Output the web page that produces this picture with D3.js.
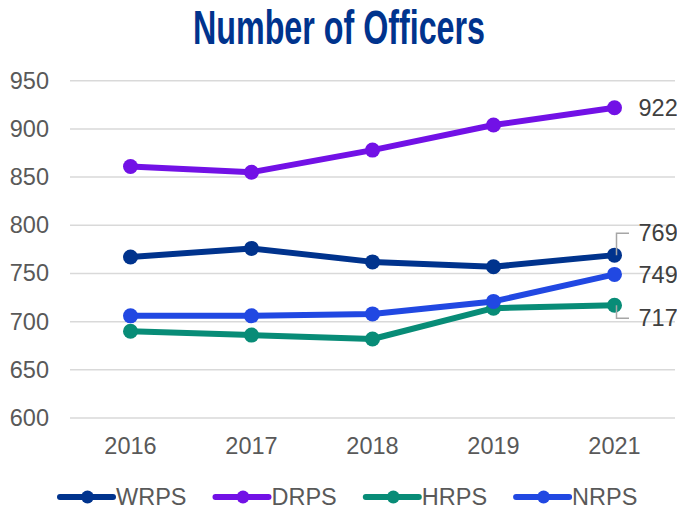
<!DOCTYPE html>
<html>
<head>
<meta charset="utf-8">
<script src="https://cdn.jsdelivr.net/npm/d3@7"></script>
<style>
  html, body { margin: 0; padding: 0; background: #fff; }
  svg { display: block; font-family: "Liberation Sans", Arial, sans-serif; }
</style>
</head>
<body>
<div id="chart"></div>
<script>
const years = ['2016', '2017', '2018', '2019', '2021'];
const seriesNames = ['WRPS', 'DRPS', 'HRPS', 'NRPS'];
const wrpsValues = [767, 776, 762, 757, 769];
const drpsValues = [861, 855, 878, 904, 922];
const hrpsValues = [690, 686, 682, 714, 717];
const nrpsValues = [706, 706, 708, 721, 749];
const yTicks = [600, 650, 700, 750, 800, 850, 900, 950];

const seriesColors = ['#00338d', '#7211e6', '#088c77', '#2148e2'];

const width = 677;
const height = 510;

const series = [wrpsValues, drpsValues, hrpsValues, nrpsValues].map((values, i) => ({
  name: seriesNames[i],
  color: seriesColors[i],
  values: values.map((v, j) => ({ year: years[j], value: v })),
}));

const svg = d3.select('#chart')
  .append('svg')
  .attr('width', width)
  .attr('height', height);

// title (condensed look: squeeze a bold sans into the reference width)
svg.append('text')
  .attr('x', 193)
  .attr('y', 44)
  .attr('textLength', 292)
  .attr('lengthAdjust', 'spacingAndGlyphs')
  .style('font-family', '"Liberation Sans", Arial, sans-serif')
  .style('font-weight', 'bold')
  .style('font-size', '48px')
  .style('fill', '#00338d')
  .text('Number of Officers');

const x = d3.scaleBand()
  .domain(years)
  .range([70, 675]);

const y = d3.scaleLinear()
  .domain([600, 950])
  .range([418, 80.7]);

const cx = (d) => x(d.year) + x.bandwidth() / 2;

// gridlines
svg.append('g')
  .selectAll('line')
  .data(yTicks)
  .enter()
  .append('line')
  .attr('x1', 70)
  .attr('x2', 675)
  .attr('y1', (d) => y(d))
  .attr('y2', (d) => y(d))
  .attr('stroke', '#d9d9d9')
  .attr('stroke-width', 1.5);

// y axis labels
const yAxis = d3.axisLeft(y).tickValues(yTicks).tickSize(0).tickPadding(0);
const yg = svg.append('g')
  .attr('transform', 'translate(49,0)')
  .call(yAxis);
yg.select('.domain').remove();
yg.selectAll('text')
  .style('font-family', '"Liberation Sans", Arial, sans-serif')
  .style('font-size', '23.5px')
  .attr('fill', '#595959');

// x axis labels
const xAxis = d3.axisBottom(x).tickSize(0).tickPadding(0);
const xg = svg.append('g')
  .attr('transform', 'translate(0,437)')
  .call(xAxis);
xg.select('.domain').remove();
xg.selectAll('text')
  .attr('dy', '0.72em')
  .style('font-family', '"Liberation Sans", Arial, sans-serif')
  .style('font-size', '23.5px')
  .attr('fill', '#595959');

// lines
const line = d3.line()
  .x(cx)
  .y((d) => y(d.value));

const sg = svg.append('g')
  .selectAll('g')
  .data(series)
  .enter()
  .append('g');

sg.append('path')
  .attr('d', (s) => line(s.values))
  .attr('fill', 'none')
  .attr('stroke', (s) => s.color)
  .attr('stroke-width', 6)
  .attr('stroke-linejoin', 'round')
  .attr('stroke-linecap', 'round');

sg.selectAll('circle')
  .data((s) => s.values.map((v) => ({ ...v, color: s.color })))
  .enter()
  .append('circle')
  .attr('cx', cx)
  .attr('cy', (d) => y(d.value))
  .attr('r', 7.5)
  .attr('fill', (d) => d.color);

// end labels (with leaders where they were pushed apart)
const last = years.length - 1;
const endLabels = [
  { s: series[1], labelY: y(drpsValues[last]), leader: false },
  { s: series[0], labelY: y(wrpsValues[last]) - 22, leader: true },
  { s: series[3], labelY: y(nrpsValues[last]), leader: false },
  { s: series[2], labelY: y(hrpsValues[last]) + 13, leader: true },
];

const lx = x(years[last]) + x.bandwidth() / 2;
const leaderLine = d3.line();
svg.append('g')
  .selectAll('path')
  .data(endLabels.filter((d) => d.leader))
  .enter()
  .append('path')
  .attr('d', (d) => {
    const v = d.s.values[last].value;
    return leaderLine([[lx + 2, y(v)], [lx + 2, d.labelY], [629, d.labelY]]);
  })
  .attr('fill', 'none')
  .attr('stroke', '#a6a6a6')
  .attr('stroke-width', 1.5);

svg.append('g')
  .selectAll('text')
  .data(endLabels)
  .enter()
  .append('text')
  .attr('x', 638.5)
  .attr('y', (d) => d.labelY)
  .attr('dy', '0.35em')
  .style('font-size', '23.5px')
  .style('fill', '#404040')
  .text((d) => d.s.values[last].value);

// legend
const legendY = 497;
const lineLen = 57;
const gap = 28;
const measure = svg.append('text').style('font-size', '23.5px');
let lxPos = 58;
series.forEach((s) => {
  measure.text(s.name);
  const tw = measure.node().getComputedTextLength();
  const g = svg.append('g').attr('transform', `translate(${lxPos},${legendY})`);
  g.append('line')
    .attr('x1', 2).attr('x2', lineLen - 2)
    .attr('y1', 0).attr('y2', 0)
    .attr('stroke', s.color)
    .attr('stroke-width', 6)
    .attr('stroke-linecap', 'round');
  g.append('circle')
    .attr('cx', lineLen / 2 + 1)
    .attr('cy', 0)
    .attr('r', 6.5)
    .attr('fill', s.color);
  g.append('text')
    .attr('x', lineLen + 1)
    .attr('y', 0)
    .attr('dy', '0.35em')
    .style('font-size', '23.5px')
    .style('fill', '#595959')
    .text(s.name);
  lxPos += lineLen + tw + gap;
});
measure.remove();
</script>
</body>
</html>
